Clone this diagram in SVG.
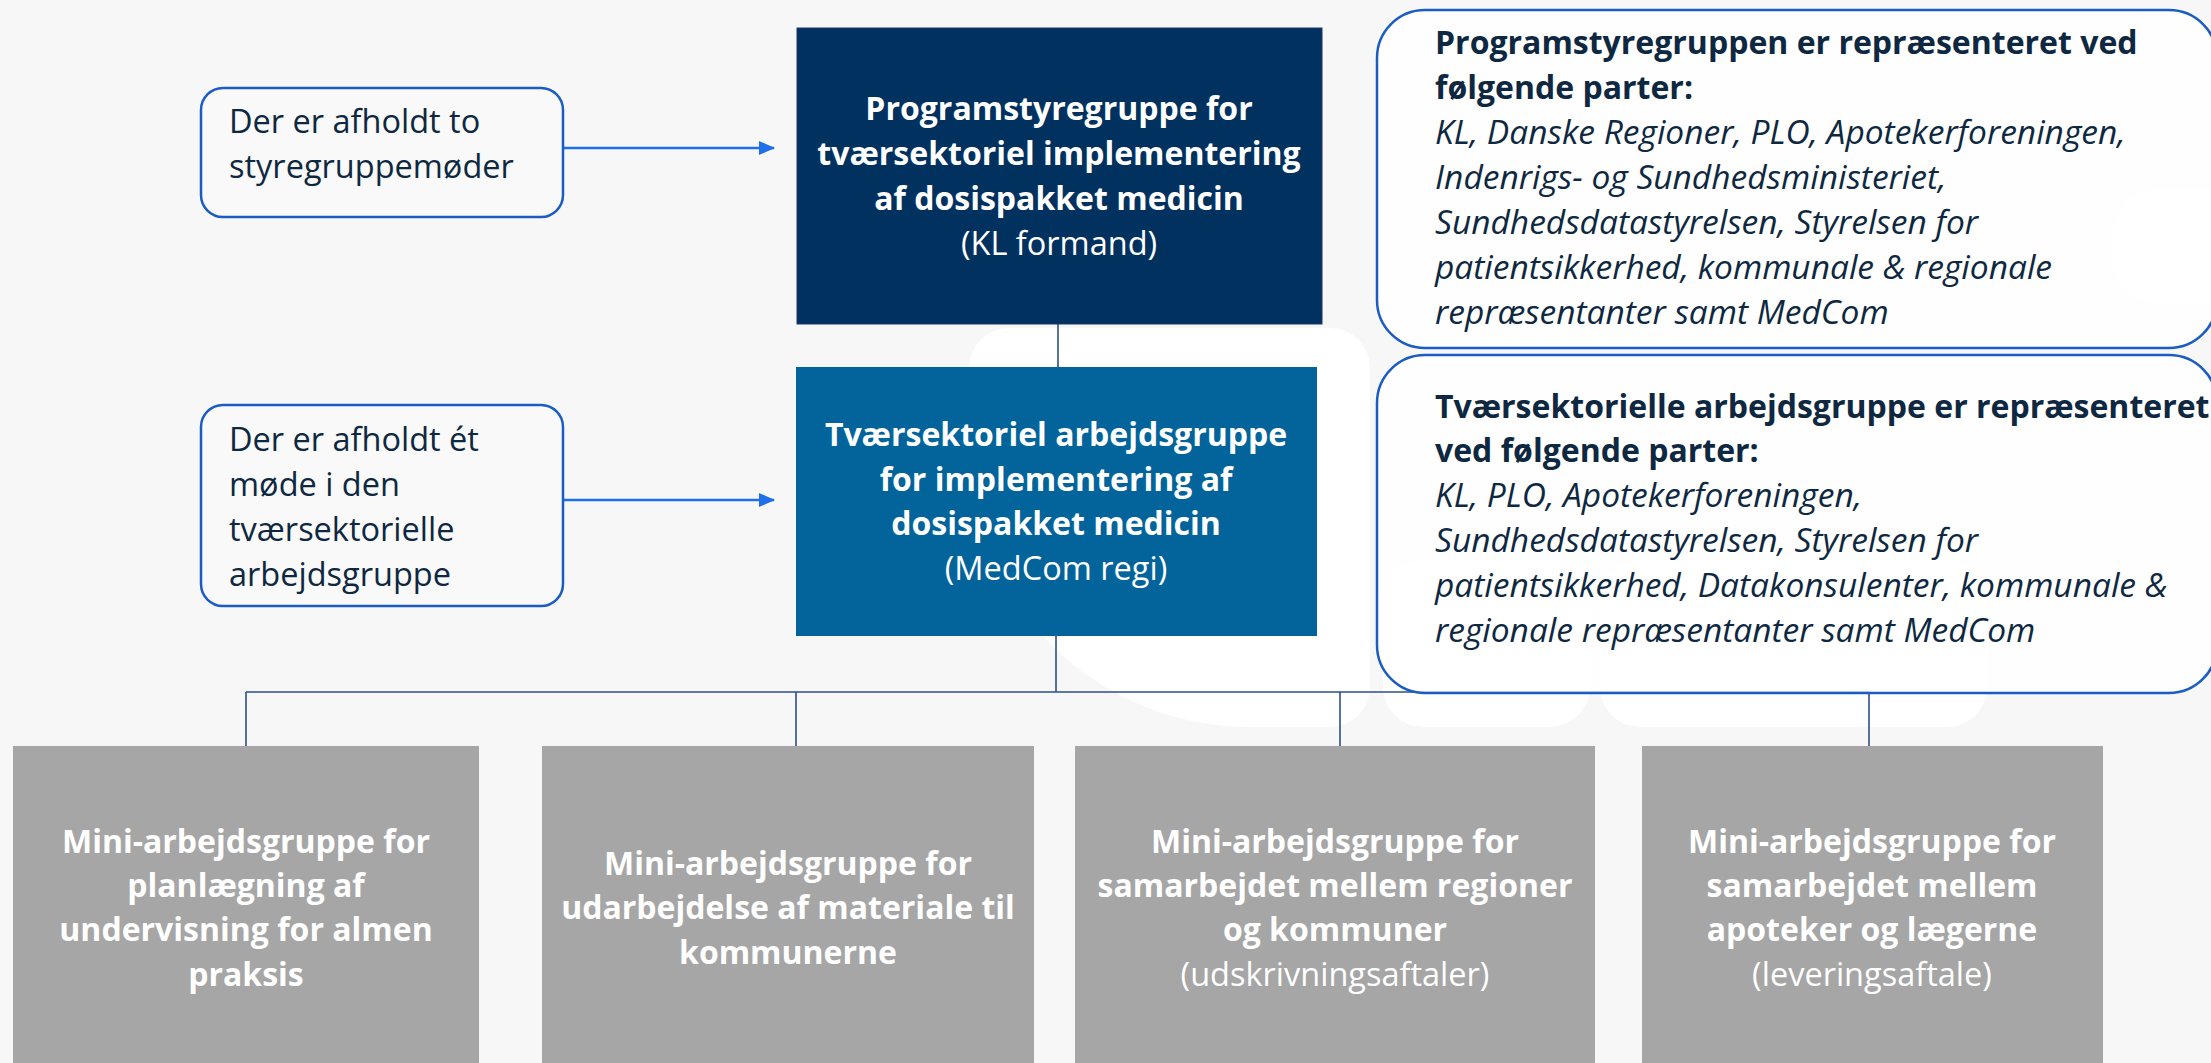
<svg xmlns="http://www.w3.org/2000/svg" width="2211" height="1063" viewBox="0 0 2211 1063">
<style>
  .bg { fill: #f7f7f7; }
  .wm { fill: #ffffff; }
  .note { fill: #f9f9f9; stroke: #1b5cc4; stroke-width: 2.5; }
  .info { fill: #ffffff; fill-opacity: 0.82; stroke: #1b5cc4; stroke-width: 2.5; }
  .t { font-family: "Open Sans", "Noto Sans", "DejaVu Sans", sans-serif; font-size: 32.5px; }
  .dark { fill: #0e2841; }
  .white { fill: #ffffff; }
  .b { font-weight: 700; font-size: 32px; }
  .i { font-style: italic; font-size: 33.5px; }
  .c { text-anchor: middle; }
  .conn { stroke: #2b4f8a; stroke-width: 1.6; fill: none; }
  .arrow { stroke: #1f6fe8; stroke-width: 2.5; fill: none; }
  .grey { fill: #a6a6a6; }
</style>
<defs>
  <marker id="ah" viewBox="0 0 16 14" refX="15" refY="7" markerWidth="16" markerHeight="14" markerUnits="userSpaceOnUse" orient="auto">
    <path d="M0,0 L16,7 L0,14 Z" fill="#1f6fe8"/>
  </marker>
</defs>
<rect class="bg" x="0" y="0" width="2211" height="1063"/>
<g id="watermark">
  <path class="wm" d="M1009 328 H1330 A40 40 0 0 1 1370 368 V687 A40 40 0 0 1 1330 727 H1250 A281 281 0 0 1 969 446 V368 A40 40 0 0 1 1009 328 Z"/>
  <rect class="wm" x="1383" y="560" width="207" height="167" rx="40"/>
  <rect class="wm" x="1600" y="560" width="387" height="167" rx="40"/>
  <rect class="wm" x="2115" y="190" width="140" height="113" rx="40"/>
</g>
<g id="connectors">
  <line class="conn" x1="1058" y1="324" x2="1058" y2="367"/>
  <line class="conn" x1="1056" y1="636" x2="1056" y2="692"/>
  <line class="conn" x1="246" y1="692" x2="1869" y2="692"/>
  <line class="conn" x1="246" y1="692" x2="246" y2="746"/>
  <line class="conn" x1="796" y1="692" x2="796" y2="746"/>
  <line class="conn" x1="1340" y1="692" x2="1340" y2="746"/>
  <line class="conn" x1="1869" y1="692" x2="1869" y2="746"/>
  <line class="arrow" x1="563" y1="148" x2="774" y2="148" marker-end="url(#ah)"/>
  <line class="arrow" x1="563" y1="500" x2="774" y2="500" marker-end="url(#ah)"/>
</g>
<g id="note1">
  <rect class="note" x="201" y="88" width="362" height="129" rx="22"/>
  <text class="t dark" x="229" y="133">Der er afholdt to</text>
  <text class="t dark" x="229" y="178">styregruppemøder</text>
</g>
<g id="note2">
  <rect class="note" x="201" y="405" width="362" height="201" rx="22"/>
  <text class="t dark" x="229" y="451">Der er afholdt ét</text>
  <text class="t dark" x="229" y="496">møde i den</text>
  <text class="t dark" x="229" y="541">tværsektorielle</text>
  <text class="t dark" x="229" y="586">arbejdsgruppe</text>
</g>
<g id="programstyregruppe">
  <rect x="797" y="28" width="525" height="296" fill="#01325f" stroke="#25336e" stroke-width="1"/>
  <text class="t white b c" x="1059" y="120">Programstyregruppe for</text>
  <text class="t white b c" x="1059" y="165">tværsektoriel implementering</text>
  <text class="t white b c" x="1059" y="210">af dosispakket medicin</text>
  <text class="t white c" x="1059" y="255">(KL formand)</text>
</g>
<g id="arbejdsgruppe">
  <rect x="796" y="367" width="521" height="269" fill="#02649b"/>
  <text class="t white b c" x="1056" y="446">Tværsektoriel arbejdsgruppe</text>
  <text class="t white b c" x="1056" y="491">for implementering af</text>
  <text class="t white b c" x="1056" y="535">dosispakket medicin</text>
  <text class="t white c" x="1056" y="580">(MedCom regi)</text>
</g>
<g id="info1">
  <rect class="info" x="1377" y="10" width="840" height="338" rx="48"/>
  <text class="t dark b" x="1435" y="54">Programstyregruppen er repræsenteret ved</text>
  <text class="t dark b" x="1435" y="99">følgende parter:</text>
  <text class="t dark i" x="1435" y="144">KL, Danske Regioner, PLO, Apotekerforeningen,</text>
  <text class="t dark i" x="1435" y="189">Indenrigs- og Sundhedsministeriet,</text>
  <text class="t dark i" x="1435" y="234">Sundhedsdatastyrelsen, Styrelsen for</text>
  <text class="t dark i" x="1435" y="279">patientsikkerhed, kommunale &amp; regionale</text>
  <text class="t dark i" x="1435" y="324">repræsentanter samt MedCom</text>
</g>
<g id="info2">
  <rect class="info" x="1377" y="355" width="840" height="338" rx="48"/>
  <text class="t dark b" x="1435" y="418">Tværsektorielle arbejdsgruppe er repræsenteret</text>
  <text class="t dark b" x="1435" y="462">ved følgende parter:</text>
  <text class="t dark i" x="1435" y="507">KL, PLO, Apotekerforeningen,</text>
  <text class="t dark i" x="1435" y="552">Sundhedsdatastyrelsen, Styrelsen for</text>
  <text class="t dark i" x="1435" y="597">patientsikkerhed, Datakonsulenter, kommunale &amp;</text>
  <text class="t dark i" x="1435" y="642">regionale repræsentanter samt MedCom</text>
</g>
<g id="mini1">
  <rect class="grey" x="13" y="746" width="466" height="330"/>
  <text class="t white b c" x="246" y="853">Mini-arbejdsgruppe for</text>
  <text class="t white b c" x="246" y="897">planlægning af</text>
  <text class="t white b c" x="246" y="941">undervisning for almen</text>
  <text class="t white b c" x="246" y="986">praksis</text>
</g>
<g id="mini2">
  <rect class="grey" x="542" y="746" width="492" height="330"/>
  <text class="t white b c" x="788" y="875">Mini-arbejdsgruppe for</text>
  <text class="t white b c" x="788" y="919">udarbejdelse af materiale til</text>
  <text class="t white b c" x="788" y="964">kommunerne</text>
</g>
<g id="mini3">
  <rect class="grey" x="1075" y="746" width="520" height="330"/>
  <text class="t white b c" x="1335" y="853">Mini-arbejdsgruppe for</text>
  <text class="t white b c" x="1335" y="897">samarbejdet mellem regioner</text>
  <text class="t white b c" x="1335" y="941">og kommuner</text>
  <text class="t white c" x="1335" y="986">(udskrivningsaftaler)</text>
</g>
<g id="mini4">
  <rect class="grey" x="1642" y="746" width="461" height="330"/>
  <text class="t white b c" x="1872" y="853">Mini-arbejdsgruppe for</text>
  <text class="t white b c" x="1872" y="897">samarbejdet mellem</text>
  <text class="t white b c" x="1872" y="941">apoteker og lægerne</text>
  <text class="t white c" x="1872" y="986">(leveringsaftale)</text>
</g>
</svg>
